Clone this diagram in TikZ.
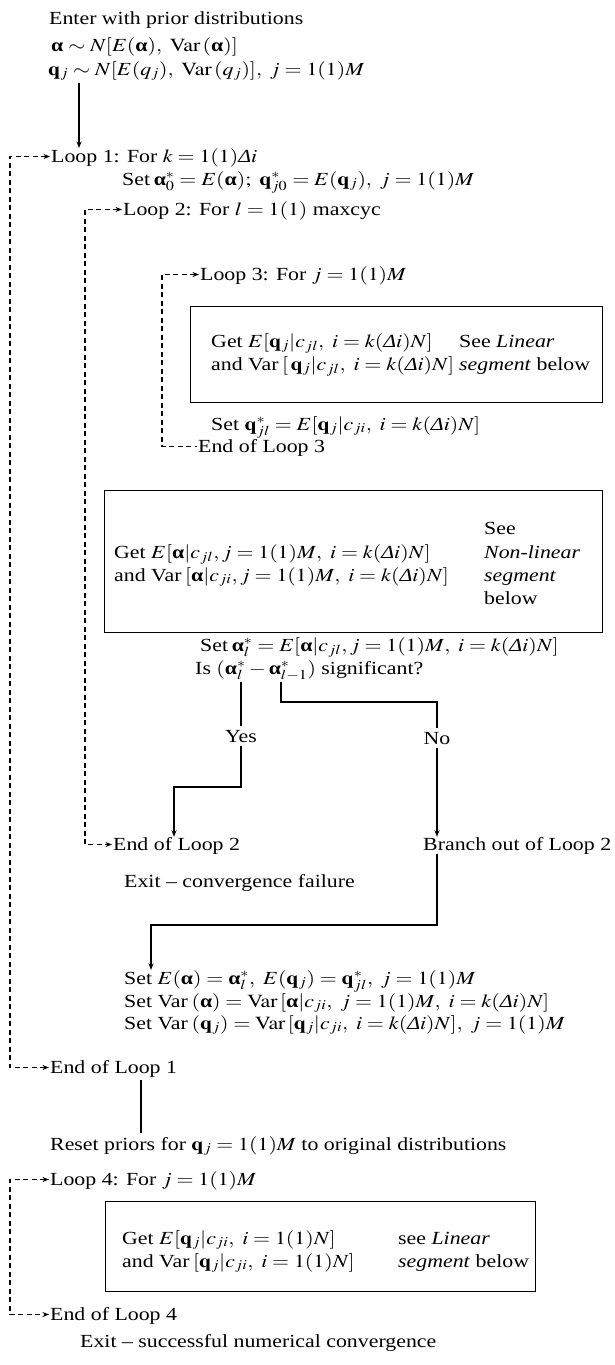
\documentclass[tikz,border=0pt]{standalone}
\usepackage{mathptmx}
\usepackage{fontspec}
\setmainfont{Liberation Serif}
\usetikzlibrary{arrows.meta,calc}
\newcommand{\ba}{\textbf{α}}
\newcommand{\bq}{\mathbf{q}}
\newcommand{\Di}{\textit{Δ}i}
\newcommand{\fs}{\fontsize{18.5}{22}\selectfont}
\tikzset{
  txt/.style={anchor=base west, inner sep=0pt, font=\fs, xscale=1.18},
  ctxt/.style={anchor=base, inner xsep=0pt, inner ysep=4pt, font=\fs, xscale=1.18},
  dline/.style={line width=1.1pt, dash pattern=on 5pt off 3.5pt},
  sline/.style={line width=1.2pt},
  arrowend/.style={-{Stealth[length=6.5pt,width=5pt]}},
  bothend/.style={{Stealth[length=6.5pt,width=5pt]}-{Stealth[length=6.5pt,width=5pt]}},
  startend/.style={{Stealth[length=6.5pt,width=5pt]}-},
  boxst/.style={draw, line width=1.4pt, inner sep=0pt, anchor=north west}
}
\begin{document}
\begin{tikzpicture}[x=1pt,y=-1pt]
\useasboundingbox (0,0) rectangle (614,1365);
% texts
\node[txt] (n1) at (49,24) {Enter with prior distributions};
\node[txt] (n2) at (51,51) {$\ba\sim N[E(\ba),\ \mathrm{Var}\,(\ba)]$};
\node[txt] (n3) at (48,75) {$\bq_j\sim N[E(q_j),\ \mathrm{Var}\,(q_j)],\ j=1(1)M$};
\node[txt] (l1) at (51,162) {Loop 1: For $k=1(1)\Di$};
\node[txt] (s0) at (122,185) {Set\,$\ba^*_0=E(\ba);\ \bq^*_{j0}=E(\bq_j),\ j=1(1)M$};
\node[txt] (l2) at (123,215) {Loop 2: For $l=1(1)$ maxcyc};
\node[txt] (l3) at (200,280) {Loop 3: For $j=1(1)M$};
\node[boxst, minimum width=412pt, minimum height=96pt] (b1) at (190,306) {};
\node[txt] (g1a) at (211,347) {Get $E[\bq_j|c_{jl},\ i=k(\Di)N]$};
\node[txt] (g1b) at (211,370) {and Var\,$[\,\bq_j|c_{jl},\ i=k(\Di)N]$};
\node[txt] (s1a) at (459,347) {See \textit{Linear}};
\node[txt] (s1b) at (459,370) {\textit{segment} below};
\node[txt] (sq) at (211,430) {Set $\bq^*_{jl}=E[\bq_j|c_{ji},\ i=k(\Di)N]$};
\node[txt] (e3) at (198,452) {End of Loop 3};
\node[boxst, minimum width=498pt, minimum height=142pt] (b2) at (104,490) {};
\node[txt] (g2a) at (114,558) {Get $E[\ba|c_{jl}, j=1(1)M,\ i=k(\Di)N]$};
\node[txt] (g2b) at (114,581) {and Var\,$[\ba|c_{ji}, j=1(1)M,\ i=k(\Di)N]$};
\node[txt] (r2a) at (484,534) {See};
\node[txt] (r2b) at (484,558) {\textit{Non-linear}};
\node[txt] (r2c) at (484,581) {\textit{segment}};
\node[txt] (r2d) at (484,604) {below};
\node[txt] (sa) at (200,651) {Set\,$\ba^*_l=E[\ba|c_{jl}, j=1(1)M,\ i=k(\Di)N]$};
\node[txt] (is) at (195,674) {Is $(\ba^*_l-\ba^*_{l-1})$ significant?};
\node[ctxt] (yes) at (241,742) {Yes};
\node[ctxt] (no) at (437,744) {No};
\node[txt] (e2) at (113,850) {End of Loop 2};
\node[txt] (br) at (423,850) {Branch out of Loop 2};
\node[txt] (ex) at (124,887) {Exit – convergence failure};
\node[txt] (se) at (124,984) {Set $E(\ba)=\ba^*_l,\ E(\bq_j)=\bq^*_{jl},\ j=1(1)M$};
\node[txt] (sva) at (124,1007) {Set Var\,$(\ba)=\mathrm{Var}\,[\ba|c_{ji},\ j=1(1)M,\ i=k(\Di)N]$};
\node[txt] (svq) at (124,1029) {Set Var\,$(\bq_j)=\mathrm{Var}\,[\bq_j|c_{ji},\ i=k(\Di)N],\ j=1(1)M$};
\node[txt] (e1) at (50,1073) {End of Loop 1};
\node[txt] (rp) at (50,1150) {Reset priors for $\bq_j=1(1)M$ to original distributions};
\node[txt] (l4) at (50,1185) {Loop 4: For $j=1(1)M$};
\node[boxst, minimum width=430pt, minimum height=90pt] (b3) at (105,1201) {};
\node[txt] (g3a) at (122,1244) {Get $E[\bq_j|c_{ji},\ i=1(1)N]$};
\node[txt] (g3b) at (122,1267) {and Var\,$[\bq_j|c_{ji},\ i=1(1)N]$};
\node[txt] (r3a) at (398,1244) {see \textit{Linear}};
\node[txt] (r3b) at (398,1267) {\textit{segment} below};
\node[txt] (e4) at (50,1320) {End of Loop 4};
\node[txt] (ex2) at (80,1347) {Exit – successful numerical convergence};
% solid connectors
\coordinate (a0s) at (79,83);
\coordinate (a0e) at (79,148);
\draw[sline,arrowend] (a0s) -- (a0e);
\coordinate (isY) at (241,682);
\coordinate (isN) at (281,682);
\coordinate (cn) at (281,702);
\coordinate (cy) at (174,787);
\draw[sline] (isY) -- (yes.north);
\draw[sline,arrowend] (yes.south) |- (cy) -- (cy |- e2.north);
\draw[sline] (isN) -- (cn) -| (no.north);
\draw[sline,arrowend] (no.south) -- (no.south |- br.north);
\coordinate (cb) at (151,925);
\draw[sline,arrowend] (br.south -| no.south) |- (cb) -- (cb |- se.north);
\coordinate (v1) at (141,0);
\draw[sline,shorten <=3pt,shorten >=3pt] (e1.south -| v1) -- (rp.north -| v1);
% dashed loops
\coordinate (l1p) at ($(l1.base west)+(-1,-5.5)$);
\coordinate (e1p) at ($(e1.base west)+(-1,-5.5)$);
\coordinate (c1) at (10,600);
\draw[dline,bothend] (l1p) -| (c1) |- (e1p);
\coordinate (l2p) at ($(l2.base west)+(-1,-5.5)$);
\coordinate (e2p) at ($(e2.base west)+(-1,-5.5)$);
\coordinate (c2) at (85,500);
\draw[dline,bothend] (l2p) -| (c2) |- (e2p);
\coordinate (l3p) at ($(l3.base west)+(-1,-5.5)$);
\coordinate (e3p) at ($(e3.base west)+(-1,-5.5)$);
\coordinate (c3) at (162,360);
\draw[dline,startend] (l3p) -| (c3) |- (e3p);
\coordinate (l4p) at ($(l4.base west)+(-1,-5.5)$);
\coordinate (e4p) at ($(e4.base west)+(-1,-5.5)$);
\coordinate (c4) at (10,1250);
\draw[dline,bothend] (l4p) -| (c4) |- (e4p);
\end{tikzpicture}
\end{document}
